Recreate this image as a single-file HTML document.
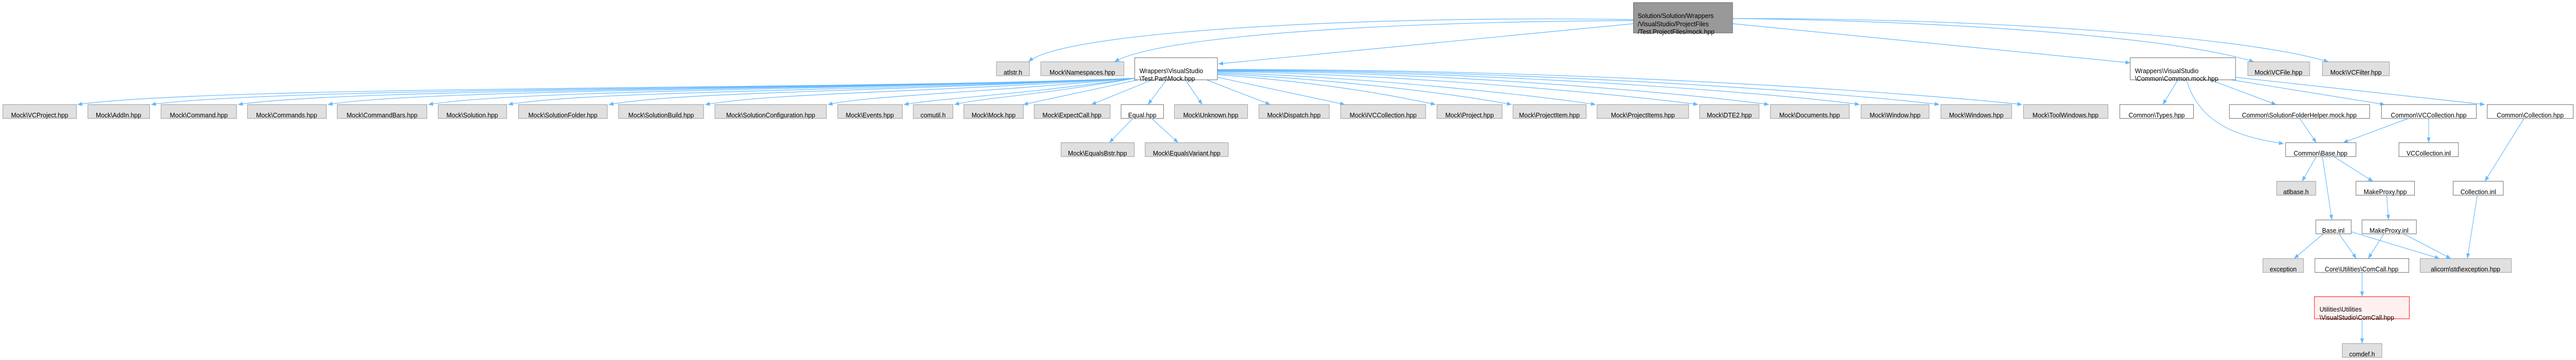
<!DOCTYPE html>
<html><head><meta charset="utf-8"><style>
html,body{margin:0;padding:0;background:#fff;width:100%;height:100%;overflow:hidden}
svg{display:block;position:absolute;left:0;top:0;width:100%;height:100%}
text{font-family:"Liberation Sans",Arial,sans-serif;font-size:13.3px;fill:#000}
.g{fill:#e0e0e0;stroke:#999;stroke-width:1}
.w{fill:#fff;stroke:#666;stroke-width:1}
.e{fill:none;stroke:#63b8ff;stroke-width:1.2;marker-end:url(#a)}
</style></head><body>
<svg viewBox="0 0 5455 699" preserveAspectRatio="none" xmlns="http://www.w3.org/2000/svg">
<defs><marker id="a" markerUnits="userSpaceOnUse" markerWidth="11" markerHeight="8" refX="10" refY="4" orient="auto"><path d="M0,0 L10,4 L0,8 z" fill="#63b8ff"/></marker></defs>

<path class="e" d="M3459 38 C2900 30,2250 60,2178 120"/>
<path class="e" d="M3459 40 C2900 42,2450 72,2360 120"/>
<path class="e" d="M3459 46 L2580 124"/>
<path class="e" d="M3669 46 L4511 122"/>
<path class="e" d="M3669 36 C4100 40,4600 70,4773 120"/>
<path class="e" d="M3669 36 C4200 35,4750 70,4931 120"/>

<path class="e" d="M2403 152 C1800 175,460 165,164 203"/>
<path class="e" d="M2403 152 C1800 175,600 168,320 203"/>
<path class="e" d="M2403 152 C1800 175,750 170,504 203"/>
<path class="e" d="M2403 152 C1800 175,900 172,694 203"/>
<path class="e" d="M2403 152 C1800 175,1100 174,907 203"/>
<path class="e" d="M2403 152 C1800 178,1250 176,1076 203"/>
<path class="e" d="M2403 152 C1800 180,1450 178,1289 203"/>
<path class="e" d="M2403 152 C1900 182,1650 180,1493 203"/>
<path class="e" d="M2403 152 C2000 185,1850 185,1753 203"/>
<path class="e" d="M2403 152 C2150 185,2000 190,1914 203"/>
<path class="e" d="M2403 152 C2200 185,2080 190,2021 203"/>
<path class="e" d="M2410 155 L2167 203"/>
<path class="e" d="M2440 155 L2311 203"/>
<path class="e" d="M2470 155 L2431 203"/>
<path class="e" d="M2510 155 L2546 203"/>
<path class="e" d="M2555 155 L2690 203"/>
<path class="e" d="M2578 150 L2848 203"/>
<path class="e" d="M2578 145 C2800 160,2950 185,3040 203"/>
<path class="e" d="M2578 143 C2850 155,3100 185,3201 203"/>
<path class="e" d="M2578 141 C2900 150,3250 185,3379 203"/>
<path class="e" d="M2578 139 C3000 145,3450 185,3596 203"/>
<path class="e" d="M2578 138 C3100 140,3600 185,3746 203"/>
<path class="e" d="M2578 137 C3200 138,3800 185,3938 203"/>
<path class="e" d="M2578 136 C3300 136,3950 185,4107 203"/>
<path class="e" d="M2578 135 C3400 134,4100 185,4282 203"/>

<path class="e" d="M2398 231 L2349 277"/>
<path class="e" d="M2440 231 L2495 277"/>

<path class="e" d="M4612 155 L4580 203"/>
<path class="e" d="M4630 155 C4660 250,4760 268,4836 279"/>
<path class="e" d="M4680 155 L4820 203"/>
<path class="e" d="M4725 155 L5050 203"/>
<path class="e" d="M4734 150 L5262 203"/>
<path class="e" d="M4870 230 L4905 277"/>
<path class="e" d="M5100 230 L4962 277"/>
<path class="e" d="M5143 230 L5143 277"/>
<path class="e" d="M5345 230 L5262 352"/>
<path class="e" d="M4905 304 L4875 352"/>
<path class="e" d="M4942 304 L5025 352"/>
<path class="e" d="M4918 304 L4938 427"/>
<path class="e" d="M5054 379 L5058 427"/>
<path class="e" d="M4920 454 L4858 502"/>
<path class="e" d="M4953 454 L4990 502"/>
<path class="e" d="M4979 450 L5166 502"/>
<path class="e" d="M5048 454 L5015 502"/>
<path class="e" d="M5090 454 L5190 502"/>
<path class="e" d="M5246 379 L5225 502"/>
<path class="e" d="M5002 529 L5002 576"/>
<path class="e" d="M5002 619 L5002 667"/>

<rect x="3459" y="5" width="210" height="59" fill="#999" stroke="#666"/>
<text x="3468" y="35">Solution/Solution/Wrappers</text>
<text x="3468" y="51">/VisualStudio/ProjectFiles</text>
<text x="3468" y="66">/Test.ProjectFiles/mock.hpp</text>

<rect class="g" x="2110" y="120" width="70" height="27"/><text x="2145" y="145" text-anchor="middle">atlstr.h</text>
<rect class="g" x="2204" y="120" width="176" height="27"/><text x="2292" y="145" text-anchor="middle">Mock\Namespaces.hpp</text>
<rect class="w" x="2403" y="112" width="175" height="43"/><text x="2413" y="142">Wrappers\VisualStudio</text><text x="2413" y="157">\Test.Part\Mock.hpp</text>
<rect class="w" x="4511" y="112" width="223" height="43"/><text x="4521" y="142">Wrappers\VisualStudio</text><text x="4521" y="157">\Common\Common.mock.hpp</text>
<rect class="g" x="4760" y="120" width="131" height="27"/><text x="4825" y="145" text-anchor="middle">Mock\VCFile.hpp</text>
<rect class="g" x="4918" y="120" width="142" height="27"/><text x="4989" y="145" text-anchor="middle">Mock\VCFilter.hpp</text>

<rect class="g" x="6" y="203" width="156" height="27"/><text x="84" y="228" text-anchor="middle">Mock\VCProject.hpp</text>
<rect class="g" x="186" y="203" width="131" height="27"/><text x="251" y="228" text-anchor="middle">Mock\AddIn.hpp</text>
<rect class="g" x="341" y="203" width="160" height="27"/><text x="421" y="228" text-anchor="middle">Mock\Command.hpp</text>
<rect class="g" x="524" y="203" width="167" height="27"/><text x="607" y="228" text-anchor="middle">Mock\Commands.hpp</text>
<rect class="g" x="714" y="203" width="190" height="27"/><text x="809" y="228" text-anchor="middle">Mock\CommandBars.hpp</text>
<rect class="g" x="928" y="203" width="145" height="27"/><text x="1000" y="228" text-anchor="middle">Mock\Solution.hpp</text>
<rect class="g" x="1098" y="203" width="188" height="27"/><text x="1192" y="228" text-anchor="middle">Mock\SolutionFolder.hpp</text>
<rect class="g" x="1310" y="203" width="180" height="27"/><text x="1400" y="228" text-anchor="middle">Mock\SolutionBuild.hpp</text>
<rect class="g" x="1514" y="203" width="236" height="27"/><text x="1632" y="228" text-anchor="middle">Mock\SolutionConfiguration.hpp</text>
<rect class="g" x="1774" y="203" width="137" height="27"/><text x="1842" y="228" text-anchor="middle">Mock\Events.hpp</text>
<rect class="g" x="1934" y="203" width="84" height="27"/><text x="1976" y="228" text-anchor="middle">comutil.h</text>
<rect class="g" x="2041" y="203" width="126" height="27"/><text x="2104" y="228" text-anchor="middle">Mock\Mock.hpp</text>
<rect class="g" x="2190" y="203" width="161" height="27"/><text x="2270" y="228" text-anchor="middle">Mock\ExpectCall.hpp</text>
<rect class="w" x="2374" y="203" width="90" height="27"/><text x="2419" y="228" text-anchor="middle">Equal.hpp</text>
<rect class="g" x="2487" y="203" width="155" height="27"/><text x="2564" y="228" text-anchor="middle">Mock\Unknown.hpp</text>
<rect class="g" x="2666" y="203" width="149" height="27"/><text x="2740" y="228" text-anchor="middle">Mock\Dispatch.hpp</text>
<rect class="g" x="2839" y="203" width="180" height="27"/><text x="2929" y="228" text-anchor="middle">Mock\IVCCollection.hpp</text>
<rect class="g" x="3043" y="203" width="138" height="27"/><text x="3112" y="228" text-anchor="middle">Mock\Project.hpp</text>
<rect class="g" x="3204" y="203" width="155" height="27"/><text x="3281" y="228" text-anchor="middle">Mock\ProjectItem.hpp</text>
<rect class="g" x="3382" y="203" width="194" height="27"/><text x="3479" y="228" text-anchor="middle">Mock\ProjectItems.hpp</text>
<rect class="g" x="3599" y="203" width="126" height="27"/><text x="3662" y="228" text-anchor="middle">Mock\DTE2.hpp</text>
<rect class="g" x="3749" y="203" width="167" height="27"/><text x="3832" y="228" text-anchor="middle">Mock\Documents.hpp</text>
<rect class="g" x="3941" y="203" width="144" height="27"/><text x="4013" y="228" text-anchor="middle">Mock\Window.hpp</text>
<rect class="g" x="4110" y="203" width="150" height="27"/><text x="4185" y="228" text-anchor="middle">Mock\Windows.hpp</text>
<rect class="g" x="4285" y="203" width="179" height="27"/><text x="4374" y="228" text-anchor="middle">Mock\ToolWindows.hpp</text>
<rect class="w" x="4489" y="203" width="156" height="27"/><text x="4567" y="228" text-anchor="middle">Common\Types.hpp</text>
<rect class="w" x="4721" y="203" width="297" height="27"/><text x="4869" y="228" text-anchor="middle">Common\SolutionFolderHelper.mock.hpp</text>
<rect class="w" x="5043" y="203" width="201" height="27"/><text x="5143" y="228" text-anchor="middle">Common\VCCollection.hpp</text>
<rect class="w" x="5267" y="203" width="182" height="27"/><text x="5358" y="228" text-anchor="middle">Common\Collection.hpp</text>

<rect class="g" x="2247" y="277" width="155" height="27"/><text x="2324" y="302" text-anchor="middle">Mock\EqualsBstr.hpp</text>
<rect class="g" x="2425" y="277" width="176" height="27"/><text x="2513" y="302" text-anchor="middle">Mock\EqualsVariant.hpp</text>
<rect class="w" x="4840" y="277" width="149" height="27"/><text x="4914" y="302" text-anchor="middle">Common\Base.hpp</text>
<rect class="w" x="5080" y="277" width="126" height="27"/><text x="5143" y="302" text-anchor="middle">VCCollection.inl</text>

<rect class="g" x="4821" y="352" width="83" height="27"/><text x="4862" y="377" text-anchor="middle">atlbase.h</text>
<rect class="w" x="4989" y="352" width="124" height="27"/><text x="5051" y="377" text-anchor="middle">MakeProxy.hpp</text>
<rect class="w" x="5195" y="352" width="106" height="27"/><text x="5248" y="377" text-anchor="middle">Collection.inl</text>

<rect class="w" x="4904" y="427" width="75" height="27"/><text x="4941" y="452" text-anchor="middle">Base.inl</text>
<rect class="w" x="5002" y="427" width="115" height="27"/><text x="5059" y="452" text-anchor="middle">MakeProxy.inl</text>

<rect class="g" x="4792" y="502" width="86" height="27"/><text x="4835" y="527" text-anchor="middle">exception</text>
<rect class="w" x="4902" y="502" width="199" height="27"/><text x="5001" y="527" text-anchor="middle">Core\Utilities\ComCall.hpp</text>
<rect class="g" x="5125" y="502" width="193" height="27"/><text x="5221" y="527" text-anchor="middle">alicorn\std\exception.hpp</text>

<rect x="4901" y="576" width="201" height="43" fill="#fff0f0" stroke="#ff0000"/>
<text x="4912" y="605">Utilities\Utilities</text><text x="4912" y="621">\VisualStudio\ComCall.hpp</text>

<rect class="g" x="4960" y="667" width="84" height="27"/><text x="5002" y="692" text-anchor="middle">comdef.h</text>
</svg>
</body></html>
